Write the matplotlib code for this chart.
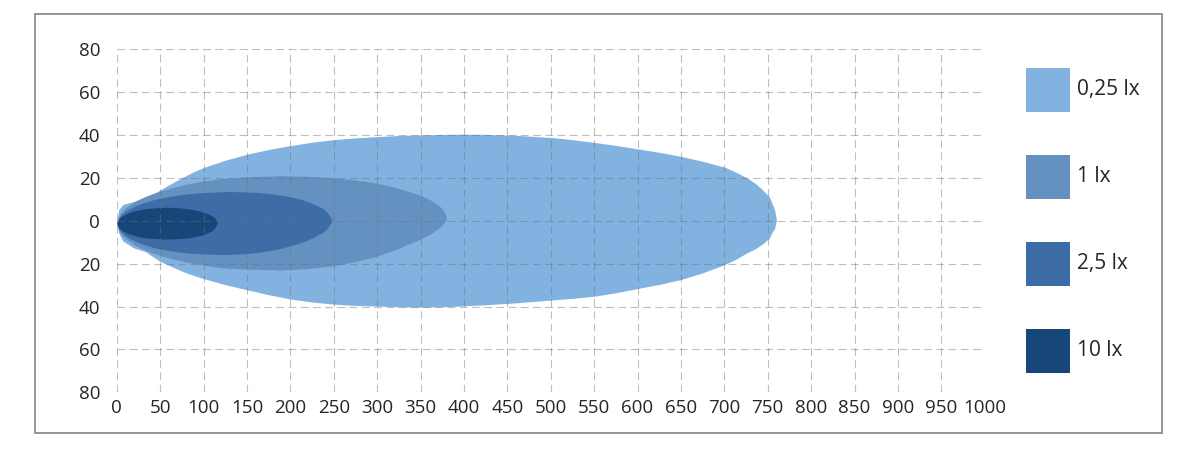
import matplotlib
matplotlib.use("Agg")
import matplotlib.pyplot as plt
from matplotlib.patches import Rectangle

plt.rcParams["font.family"] = ["Open Sans", "DejaVu Sans"]

# isolux outlines: distance (m), upper and lower edge (m)
x_025 = [0, 2, 7, 20, 33, 50, 60, 75, 87, 100, 125, 150, 175, 200, 225, 250, 275, 300, 325, 350,
         385, 420, 460, 500, 525, 550, 575, 600, 625, 650, 675, 700, 713, 726, 736, 745, 752, 755, 758, 760]
top_025 = [-1.0, 5.0, 7.6, 9.0, 10.5, 14.3, 16.7, 20.0, 22.5, 24.8, 28.2, 31.0, 33.2, 35.0, 36.6, 37.8, 38.6, 39.2, 39.7, 40.0,
           40.3, 40.3, 39.8, 38.8, 37.8, 36.5, 35.1, 33.5, 31.9, 30.0, 27.7, 25.0, 22.7, 20.0, 17.3, 14.0, 11.0, 8.0, 5.0, 0.5]
bot_025 = [-1.0, -5.5, -9.5, -12.8, -14.4, -19.0, -20.8, -23.5, -25.3, -27.0, -29.8, -32.2, -34.5, -36.5, -37.9, -38.9, -39.5, -39.8, -40.1, -40.3,
           -40.0, -39.3, -38.3, -37.0, -36.2, -35.2, -33.6, -31.6, -29.7, -27.4, -24.3, -20.5, -18.0, -15.0, -13.0, -10.5, -8.0, -5.5, -3.5, 0.5]

x_1 = [0, 2, 5, 10, 15, 22, 30, 40, 50, 65, 80, 100, 120, 150, 190, 220, 250, 275, 300, 320, 340, 352, 362, 368, 374, 378, 380]
top_1 = [-1.2, 1.5, 3.9, 6.0, 7.5, 9.3, 10.8, 12.4, 13.8, 15.5, 17.0, 18.5, 19.6, 20.5, 21.0, 20.7, 20.0, 19.0, 17.5, 15.6,
         13.2, 11.5, 9.5, 8.0, 6.0, 3.5, 1.0]
bot_1 = [-1.2, -4.0, -6.3, -8.4, -9.9, -11.7, -13.2, -14.8, -16.2, -17.9, -19.3, -20.7, -21.9, -22.6, -23.0, -22.3, -21.0, -19.0, -16.5, -13.7,
         -10.2, -8.2, -6.0, -4.3, -2.5, -0.5, 1.0]

x_25 = [0, 2, 5, 10, 15, 22, 30, 40, 50, 65, 80, 100, 124, 142, 160, 175, 190, 203, 215, 224, 232, 238, 242, 245, 248]
top_25 = [-1.2, 1.2, 2.8, 4.4, 5.6, 7.0, 8.2, 9.5, 10.5, 11.6, 12.5, 13.1, 13.6, 13.5, 13.2, 12.7, 11.9, 10.9, 9.6, 8.3,
          6.8, 5.5, 4.0, 2.5, 0.3]
bot_25 = [-1.2, -3.6, -5.4, -7.0, -8.3, -9.7, -10.9, -12.2, -13.2, -14.2, -15.0, -15.5, -15.8, -15.5, -14.9, -14.0, -12.8, -11.4, -9.8, -8.3,
          -6.6, -5.3, -3.8, -2.2, 0.3]

x_10 = [0, 2, 4, 7, 10, 15, 20, 27, 35, 47, 58, 68, 80, 88, 95, 100, 105, 109, 112, 114, 116]
top_10 = [-1.2, 0.4, 1.5, 2.4, 3.0, 3.9, 4.5, 5.2, 5.7, 6.1, 6.3, 6.1, 5.7, 5.2, 4.6, 4.0, 3.2, 2.5, 1.5, 0.8, -0.8]
bot_10 = [-1.2, -2.8, -3.9, -4.8, -5.4, -6.3, -6.9, -7.6, -8.1, -8.4, -8.6, -8.4, -8.1, -7.6, -7.0, -6.4, -5.6, -4.9, -3.9, -2.6, -0.8]

labels = ["0,25 lx", "1 lx", "2,5 lx", "10 lx"]
colors = ["#82b2df", "#6591c1", "#3d6ca7", "#174679"]

x_ticks = list(range(0, 1001, 50))
y_ticks = list(range(-80, 81, 20))

fig = plt.figure(figsize=(12, 4.5), dpi=100)
ax = fig.add_axes([0.0973, 0.1282, 0.7233, 0.7627])

shapes = [(x_025, top_025, bot_025), (x_1, top_1, bot_1), (x_25, top_25, bot_25), (x_10, top_10, bot_10)]
for (xs, tops, bots), c in zip(shapes, colors):
    ax.fill_between(xs, bots, tops, color=c, linewidth=0)

ax.set_xlim(0, 1000)
ax.set_ylim(-80, 80)
ax.set_xticks(x_ticks)
ax.set_yticks(y_ticks)
ax.set_yticklabels([str(abs(v)) for v in y_ticks])
# dashed grid sits on top of the fills, light on white and darker over blue
ax.grid(True, linestyle=(0, (7, 4)), color="#707070", linewidth=0.8, alpha=0.45)
ax.set_axisbelow(False)
for s in ax.spines.values():
    s.set_visible(False)
ax.tick_params(axis="both", length=0, labelsize=13.5, labelcolor="#262626")
ax.tick_params(axis="x", pad=5)
ax.tick_params(axis="y", pad=12)

# legend boxes on the right
for i, (lab, c) in enumerate(zip(labels, colors)):
    top_px = 68 + i * 87
    fig.add_artist(Rectangle((1026 / 1200, 1 - (top_px + 44) / 450), 44 / 1200, 44 / 450,
                             transform=fig.transFigure, facecolor=c, edgecolor="none"))
    fig.text(1077 / 1200, 1 - (top_px + 22) / 450, lab, fontsize=15, color="#262626", va="center", ha="left")

# outer frame
fig.add_artist(Rectangle((35 / 1200, 1 - 433 / 450), 1127 / 1200, 419 / 450,
                         transform=fig.transFigure, fill=False, edgecolor="#8c8c8c", linewidth=1.3))

fig.savefig("out.png", dpi=100, facecolor="white")
